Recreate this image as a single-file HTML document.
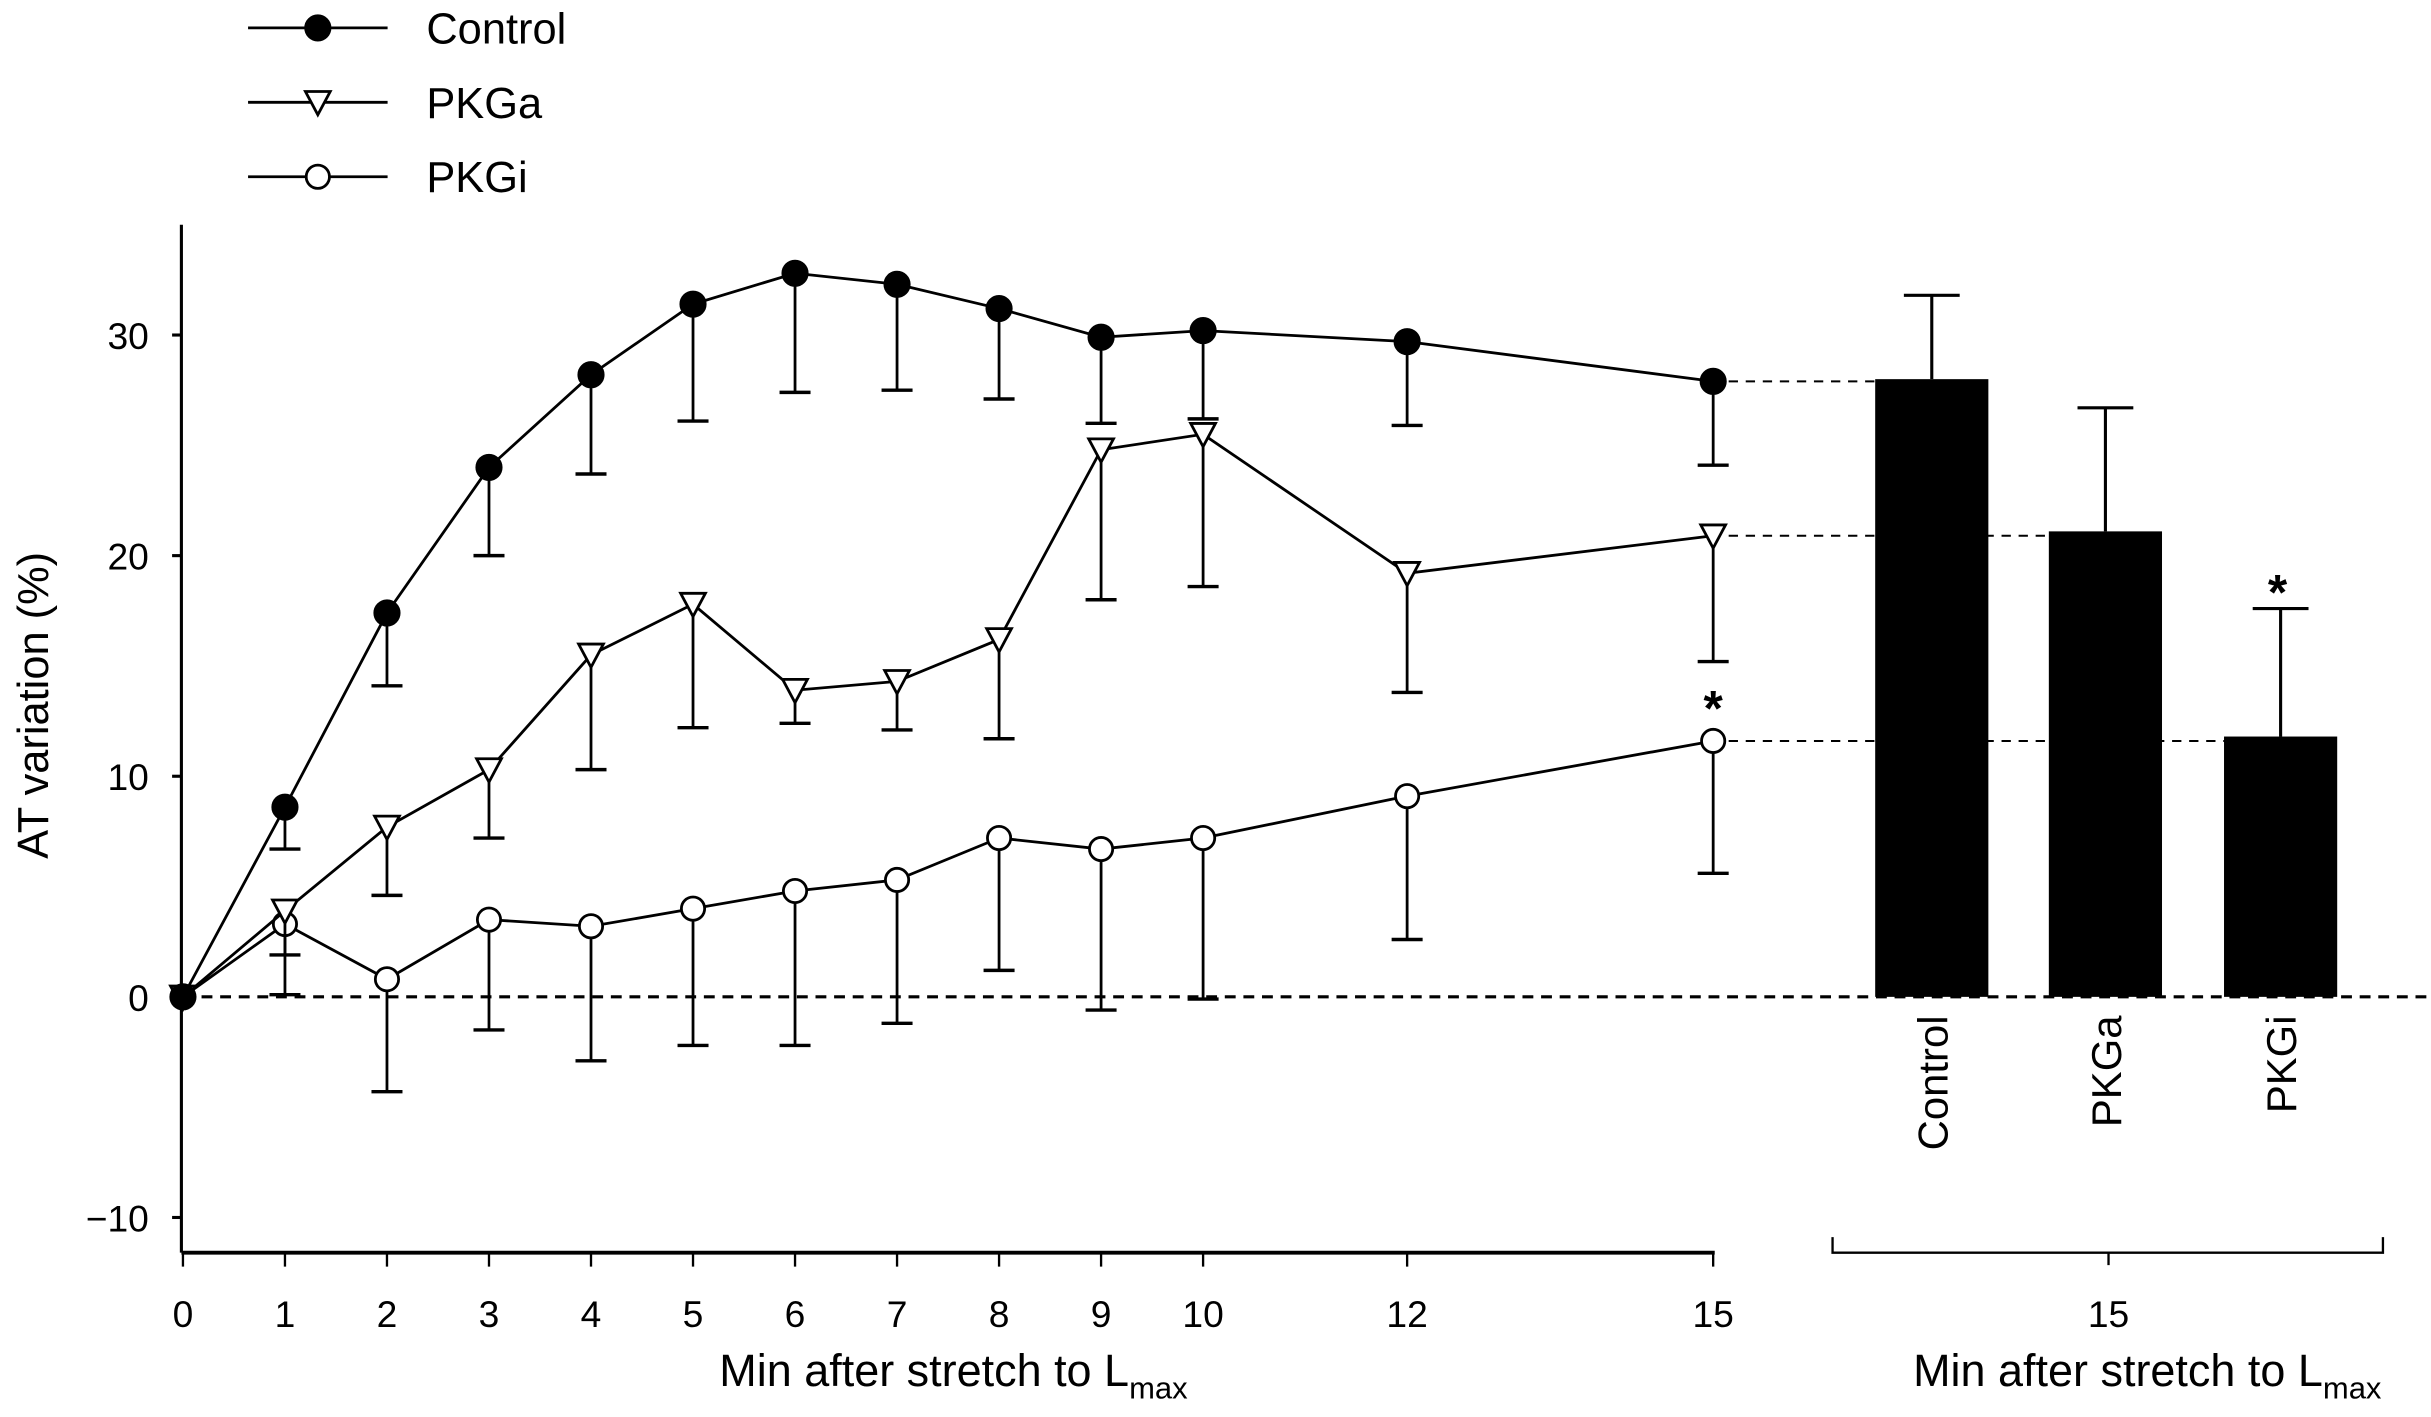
<!DOCTYPE html>
<html><head><meta charset="utf-8"><style>
html,body{margin:0;padding:0;background:#fff}
svg{display:block}
text{font-family:"Liberation Sans",Arial,sans-serif;fill:#000}
</style></head><body>
<svg id="chart" width="2431" height="1417" viewBox="0 0 1568 914" preserveAspectRatio="none" xmlns="http://www.w3.org/2000/svg">
<g id="g"></g>
</svg>
<script>
const minutes = [0,1,2,3,4,5,6,7,8,9,10,12,15];
const controlMean = [0,8.6,17.4,24.0,28.2,31.4,32.8,32.3,31.2,29.9,30.2,29.7,27.9];
const controlLow  = [0,6.7,14.1,20.0,23.7,26.1,27.4,27.5,27.1,26.0,26.2,25.9,24.1];
const pkgaMean = [0,3.9,7.7,10.3,15.5,17.8,13.9,14.3,16.2,24.8,25.5,19.2,20.9];
const pkgaLow  = [0,1.9,4.6,7.2,10.3,12.2,12.4,12.1,11.7,18.0,18.6,13.8,15.2];
const pkgiMean = [0,3.3,0.8,3.5,3.2,4.0,4.8,5.3,7.2,6.7,7.2,9.1,11.6];
const pkgiLow  = [0,0.1,-4.3,-1.5,-2.9,-2.2,-2.2,-1.2,1.2,-0.6,-0.1,2.6,5.6];
const yTicks = [-10,0,10,20,30];
const barCats = ["Control","PKGa","PKGi"];
const barMeans = [28.0,21.1,11.8];
const barErrTop = [31.8,26.7,17.6];

const NS="http://www.w3.org/2000/svg";
const g=document.getElementById('g');
const X=m=>118+m*(1105-118)/15;
const Y=v=>643-v*14.23;
function el(tag,attrs,parent){const e=document.createElementNS(NS,tag);for(const k in attrs)e.setAttribute(k,attrs[k]);(parent||g).appendChild(e);return e;}

let a=el('line',{x1:117,y1:145,x2:117,y2:808,stroke:'#000','stroke-width':2});


a=el('line',{x1:117,y1:808,x2:1106,y2:808,stroke:'#000','stroke-width':2.5});


yTicks.forEach(t=>{
  el('line',{x1:111,y1:Y(t),x2:117,y2:Y(t),stroke:'#000','stroke-width':2});
  const tx=el('text',{x:96,y:Y(t)+9,'text-anchor':'end','font-size':24});
  tx.textContent=t<0?'\u2212'+(-t):t;
  
  
});
minutes.forEach(m=>{
  el('line',{x1:X(m),y1:808,x2:X(m),y2:817,stroke:'#000','stroke-width':1.5});
  const tx=el('text',{x:X(m),y:856,'text-anchor':'middle','font-size':24});
  tx.textContent=m;
  
  
});
let t=el('text',{x:615,y:894,'text-anchor':'middle','font-size':29});
t.innerHTML='Min after stretch to L<tspan font-size="20" dy="8">max</tspan>';


t=el('text',{x:0,y:0,'text-anchor':'middle','font-size':28,transform:'translate(31,455) rotate(-90)'});
t.textContent='AT variation (%)';



let d=el('line',{x1:118,y1:Y(0),x2:1568,y2:Y(0),stroke:'#000','stroke-width':2,'stroke-dasharray':'7,5'});



const bx=[1246,1358,1471];
barCats.forEach((c,i)=>{
  const last=i===0?controlMean:i===1?pkgaMean:pkgiMean;
  const ln=el('line',{x1:1115,y1:Y(last[last.length-1]),x2:bx[i]-36,y2:Y(last[last.length-1]),stroke:'#000','stroke-width':1.3,'stroke-dasharray':'6,5'});
  
  
});
barCats.forEach((c,i)=>{
  el('line',{x1:bx[i],y1:Y(barErrTop[i]),x2:bx[i],y2:Y(barMeans[i]),stroke:'#000','stroke-width':2});
  el('line',{x1:bx[i]-18,y1:Y(barErrTop[i]),x2:bx[i]+18,y2:Y(barErrTop[i]),stroke:'#000','stroke-width':2});
  const r=el('rect',{x:bx[i]-36.5,y:Y(barMeans[i]),width:73,height:Y(0)-Y(barMeans[i]),fill:'#000'});
  
  
  const tx=el('text',{x:0,y:0,'text-anchor':'end','font-size':27,transform:`translate(${bx[i]+10},655) rotate(-90)`});
  tx.textContent=c;
  
  
});
let s=el('text',{x:1469,y:393,'text-anchor':'middle','font-size':32,'font-weight':'bold'});
s.textContent='*';


let br=el('path',{d:'M1182,798 V808 H1537 V798 M1360,808 V816',fill:'none',stroke:'#000','stroke-width':1.5});


t=el('text',{x:1360,y:856,'text-anchor':'middle','font-size':24});t.textContent='15';


t=el('text',{x:1385,y:894,'text-anchor':'middle','font-size':29});
t.innerHTML='Min after stretch to L<tspan font-size="20" dy="8">max</tspan>';



function marker(type,x,y,parent){
  if(type==='filled') return el('circle',{cx:x,cy:y,r:8,fill:'#000',stroke:'#000','stroke-width':1.5},parent);
  if(type==='open') return el('circle',{cx:x,cy:y,r:7.5,fill:'#fff',stroke:'#000','stroke-width':1.8},parent);
  return el('path',{d:`M${x-8},${y-7} L${x+8},${y-7} L${x},${y+8} Z`,fill:'#fff',stroke:'#000','stroke-width':1.8},parent);
}
function series(name,mean,low,type){
  const sg=el('g',{});
  
  
  minutes.forEach((m,i)=>{if(m===0)return;
    el('line',{x1:X(m),y1:Y(mean[i]),x2:X(m),y2:Y(low[i]),stroke:'#000','stroke-width':1.8},sg);
    el('line',{x1:X(m)-10,y1:Y(low[i]),x2:X(m)+10,y2:Y(low[i]),stroke:'#000','stroke-width':2.2},sg);
  });
  el('polyline',{points:minutes.map((m,i)=>X(m)+','+Y(mean[i])).join(' '),fill:'none',stroke:'#000','stroke-width':1.8},sg);
  minutes.forEach((m,i)=>{
    const mk=marker(type,X(m),Y(mean[i]),sg);
    
    
  });
}
series('pkgi',pkgiMean,pkgiLow,'open');
series('pkga',pkgaMean,pkgaLow,'tri');
series('control',controlMean,controlLow,'filled');
s=el('text',{x:X(15),y:Y(pkgiMean[12])-10,'text-anchor':'middle','font-size':32,'font-weight':'bold'});
s.textContent='*';



const legNames=['Control','PKGa','PKGi'],legTypes=['filled','tri','open'],legY=[18,66,114];
legNames.forEach((n,i)=>{
  const lg=el('g',{});
  
  
  el('line',{x1:160,y1:legY[i],x2:250,y2:legY[i],stroke:'#000','stroke-width':1.8},lg);
  marker(legTypes[i],205,legY[i],lg);
  const tx=el('text',{x:275,y:legY[i]+10,'font-size':28},lg);tx.textContent=n;
});
</script>
</body></html>
